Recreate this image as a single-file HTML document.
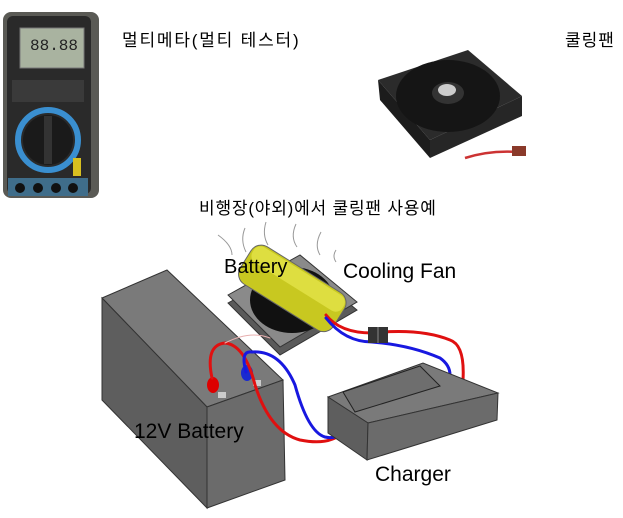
<!DOCTYPE html>
<html><head><meta charset="utf-8"><style>
body{margin:0;width:623px;height:518px;background:#fff;overflow:hidden;position:relative;font-family:"Liberation Sans","Noto Sans CJK KR",sans-serif}
.t{position:absolute;white-space:nowrap;color:#000}
</style></head><body>
<svg width="623" height="518" style="position:absolute;left:0;top:0">
<rect x="3" y="12" width="96" height="186" rx="8" fill="#5a5a55"/>
<rect x="7" y="16" width="84" height="178" rx="6" fill="#2a2a2a"/>
<rect x="20" y="28" width="64" height="40" fill="#a9b3a0" stroke="#777"/>
<text x="30" y="50" font-family="Liberation Mono" font-size="16" fill="#222">88.88</text>
<rect x="12" y="80" width="72" height="22" fill="#3a3a3a"/>
<circle cx="48" cy="140" r="30" fill="none" stroke="#3a8fd0" stroke-width="6"/>
<circle cx="48" cy="140" r="25" fill="#1a1a1a"/>
<rect x="44" y="116" width="8" height="48" fill="#333"/>
<rect x="73" y="158" width="8" height="18" fill="#d8c020"/>
<rect x="8" y="178" width="80" height="18" fill="#3f6d8a"/>
<circle cx="20" cy="188" r="5" fill="#111"/><circle cx="38" cy="188" r="5" fill="#111"/><circle cx="56" cy="188" r="5" fill="#111"/><circle cx="73" cy="188" r="5" fill="#111"/>
<polygon points="378,80 468,50 522,96 430,140" fill="#2b2b2b"/>
<polygon points="378,80 430,140 430,158 380,100" fill="#1c1c1c"/>
<polygon points="430,140 522,96 522,116 430,158" fill="#262626"/>
<ellipse cx="448" cy="96" rx="52" ry="36" fill="#151515"/>
<ellipse cx="448" cy="93" rx="16" ry="11" fill="#333"/>
<ellipse cx="447" cy="90" rx="9" ry="6" fill="#ccc"/>
<path d="M465 158 Q490 150 518 152" stroke="#c33" stroke-width="2.5" fill="none"/>
<rect x="512" y="146" width="14" height="10" fill="#8a3a2a"/>
<polygon points="102,298 167,270 283,380 207,407" fill="#7a7a7a" stroke="#333"/>
<polygon points="102,298 207,407 207,508 102,400" fill="#5e5e5e" stroke="#333"/>
<polygon points="207,407 283,380 285,480 207,508" fill="#6b6b6b" stroke="#333"/>
<rect x="218" y="392" width="8" height="6" fill="#ccc"/><rect x="253" y="380" width="8" height="6" fill="#ccc"/>
<ellipse cx="213" cy="385" rx="6" ry="8" fill="#d00"/><ellipse cx="247" cy="373" rx="6" ry="8" fill="#1a2ad0"/>
<g stroke="#999" fill="none" stroke-width="1"><path d="M218 235 Q232 245 232 255"/><path d="M245 228 Q240 240 246 252"/><path d="M266 222 Q262 235 268 245"/><path d="M296 224 Q290 237 297 247"/><path d="M321 232 Q314 245 320 255"/><path d="M336 250 Q332 256 336 262"/></g>
<polygon points="228,303 300,263 357,310 280,355" fill="#5a5a5a" stroke="#333"/>
<polygon points="228,295 300,255 357,302 280,347" fill="#8a8a8a" stroke="#333"/>
<ellipse cx="292" cy="300" rx="42" ry="33" fill="#111"/>
<g transform="rotate(32 292 287)"><rect x="238" y="266" width="110" height="44" rx="12" fill="#c8c820" stroke="#666"/><rect x="240" y="268" width="106" height="18" rx="8" fill="#dede40"/></g>
<g fill="none" stroke-width="3" stroke-linecap="round">
<path d="M326 315 Q340 333 372 333 Q420 328 450 340 Q465 345 463 380" stroke="#e01010"/>
<path d="M326 318 Q345 342 372 342 Q410 345 440 358 Q450 365 450 375" stroke="#1818e0"/>
<path d="M212 378 Q205 345 225 343 Q245 345 255 385 Q270 432 300 440 Q330 446 343 432" stroke="#e01010"/>
<path d="M246 372 Q240 350 252 352 Q280 350 295 385 Q308 432 325 437 Q338 440 346 428" stroke="#1818e0"/>
<path d="M225 343 Q250 330 270 338" stroke="#e8b0b0" stroke-width="1"/>
</g>
<rect x="368" y="327" width="20" height="16" fill="#333"/><line x1="378" y1="327" x2="378" y2="343" stroke="#888"/>
<polygon points="328,397 423,363 498,393 368,423" fill="#7a7a7a" stroke="#333"/>
<polygon points="328,397 368,423 367,460 328,433" fill="#5e5e5e" stroke="#333"/>
<polygon points="368,423 498,393 497,420 367,460" fill="#6b6b6b" stroke="#333"/>
<polygon points="343,392 420,366 440,386 355,412" fill="#6e6e6e" stroke="#222"/>
</svg>
<div class="t" style="left:122px;top:26px;font-size:17px;letter-spacing:1.8px">멀티메타(멀티 테스터)</div>
<div class="t" style="left:565px;top:26px;font-size:17px;letter-spacing:1px">쿨링팬</div>
<div class="t" style="left:199px;top:194px;font-size:17px;letter-spacing:0.8px">비행장(야외)에서 쿨링팬 사용예</div>
<div class="t" style="left:224px;top:256px;font-size:20px">Battery</div>
<div class="t" style="left:343px;top:260px;font-size:21px">Cooling Fan</div>
<div class="t" style="left:134px;top:420px;font-size:21px">12V Battery</div>
<div class="t" style="left:375px;top:463px;font-size:21px">Charger</div>
</body></html>
